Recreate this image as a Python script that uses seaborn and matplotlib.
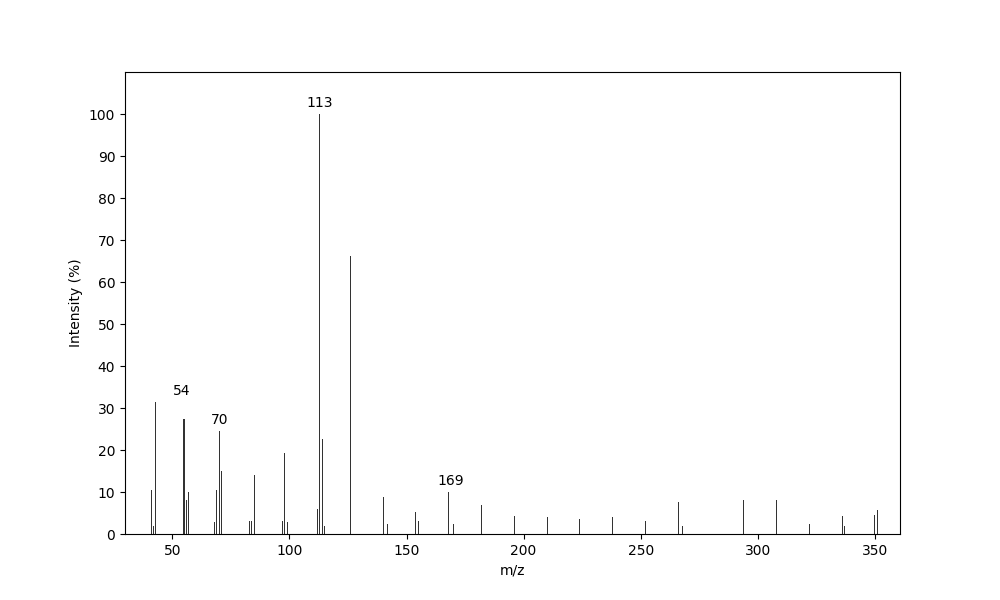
import numpy as np
import pandas as pd
import matplotlib
matplotlib.use("Agg")
import matplotlib.pyplot as plt
import seaborn as sns

# peak list
mz = [41, 42, 43, 55, 56, 57, 68, 69, 70, 71, 83, 84, 85, 97, 98, 99,
      112, 113, 114, 115, 126, 140, 142, 154, 155, 168, 170, 182, 196,
      210, 224, 238, 252, 266, 268, 294, 308, 322, 336, 337, 350, 351]
intensity = [10.5, 2.0, 31.4, 27.4, 8.1, 10.0, 2.9, 10.5, 24.5, 15.1, 3.1, 3.1,
             14.0, 3.1, 19.3, 2.9, 6.0, 100.0, 22.6, 1.9, 66.2, 8.7, 2.4, 5.2,
             3.1, 9.9, 2.4, 6.9, 4.3, 4.0, 3.6, 4.0, 3.1, 7.6, 1.9, 8.1, 8.1,
             2.4, 4.3, 1.9, 4.5, 5.7]

# annotated peaks
label_x = [54, 70, 113, 169]
label_y = [31.4, 24.5, 100.0, 9.9]

df = pd.DataFrame({"mz": mz, "intensity": intensity})

fig, ax = plt.subplots(figsize=(10, 6), dpi=100)
sns.barplot(data=df, x="mz", y="intensity", native_scale=True, width=0.45,
            color="#333333", saturation=1, linewidth=0, ax=ax)

for x, y in zip(label_x, label_y):
    ax.text(x, y + 1.0, str(x), ha="center", va="bottom", fontsize=10)

ax.set_xlim(29.8, 360.7)
ax.set_ylim(0, 110)
ax.set_yticks(np.arange(0, 101, 10))
ax.set_xlabel("m/z")
ax.set_ylabel("Intensity (%)")

plt.savefig("out.png", dpi=100)
